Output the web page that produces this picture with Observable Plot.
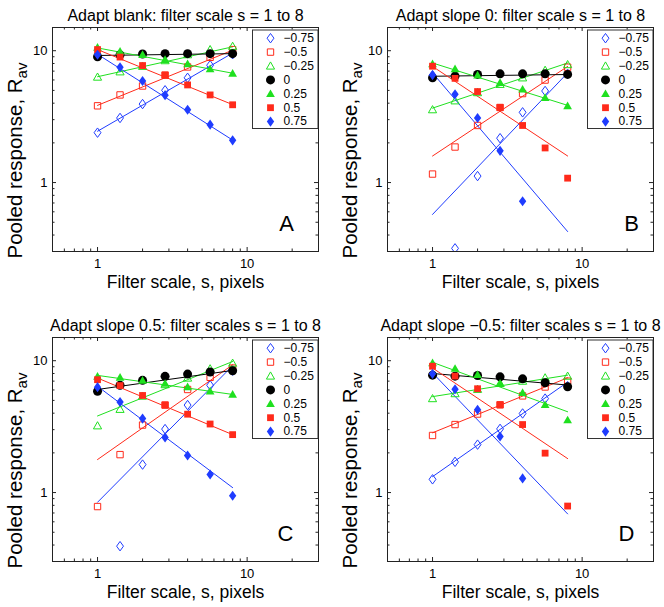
<!DOCTYPE html>
<html><head><meta charset="utf-8">
<script src="https://cdn.jsdelivr.net/npm/d3@7"></script>
<script src="https://cdn.jsdelivr.net/npm/@observablehq/plot@0.6"></script>
<style>
html,body{margin:0;padding:0;background:#fff;}
#chart{position:relative;width:664px;height:607px;overflow:hidden;background:#fff;}
.panel{position:absolute;}
</style></head><body><div id="chart"></div>
<script>
// ---------- data ----------
const filterScales = [1, 1.414, 2, 2.828, 4, 5.657, 8];
const fitScales = [1, 8];
const slopeLabels = ["\u22120.75", "\u22120.5", "\u22120.25", "0", "0.25", "0.5", "0.75"];
const panelTitles = [
  "Adapt blank: filter scale s = 1 to 8",
  "Adapt slope 0: filter scale s = 1 to 8",
  "Adapt slope 0.5: filter scales s = 1 to 8",
  "Adapt slope \u22120.5: filter scales s = 1 to 8"
];
const panelLetters = ["A", "B", "C", "D"];
const xMajorTicks = [1, 10];
const xMinorTicks = [0.6, 0.7, 0.8, 0.9, 2, 3, 4, 5, 6, 7, 8, 9, 20];
const yMajorTicks = [1, 10];
const yMinorTicks = [0.4, 0.5, 0.6, 0.7, 0.8, 0.9, 2, 3, 4, 5, 6, 7, 8, 9];

// pooled response per slope series (rows) at each filter scale (cols)
const respA = [
  [2.39, 3.09, 3.94, 5.01, 6.23, 7.76, 9.4],
  [3.82, 4.62, 5.40, 6.53, 7.53, 8.91, 10.2],
  [6.31, 6.92, 7.62, 8.41, 9.33, 10.2, 10.8],
  [9.0, 9.3, 9.44, 9.5, 9.5, 9.5, 9.5],
  [10.6, 9.88, 9.33, 8.56, 7.94, 7.28, 6.72],
  [10.2, 8.95, 7.72, 6.53, 5.50, 4.62, 3.89],
  [9.33, 7.50, 5.89, 4.60, 3.57, 2.75, 2.09]
];
const fitA = [[2.45, 9.6], [3.85, 10.1], [6.35, 10.7], [9.2, 9.5], [10.5, 6.75], [10.2, 3.9], [9.4, 2.1]];

const respB = [
  [6.5, 0.317, 1.12, 2.17, 3.41, 4.95, 6.68],
  [1.16, 1.86, 2.71, 3.71, 4.73, 5.99, 7.50],
  [3.57, 4.17, 4.81, 5.56, 6.23, 7.11, 7.85],
  [6.23, 6.42, 6.61, 6.68, 6.68, 6.68, 6.61],
  [7.94, 7.28, 6.53, 5.72, 5.10, 4.41, 3.82],
  [7.63, 6.17, 4.90, 3.71, 2.71, 1.83, 1.08],
  [6.53, 4.68, 3.09, 1.74, 0.721, null, null]
];
const fitB = [[0.573, 6.79], [1.59, 7.6], [3.67, 8.07], [6.4, 6.6], [8.07, 3.85], [7.6, 1.59], [6.79, 0.425]];

const respC = [
  [null, 0.392, 1.63, 3.03, 4.61, 6.51, 8.4],
  [0.783, 1.94, 3.25, 4.61, 6.05, 7.48, 8.8],
  [3.21, 4.28, 5.39, 6.59, 7.39, 8.69, 9.58],
  [5.87, 6.51, 7.10, 7.61, 7.92, 8.21, 8.40],
  [7.61, 7.48, 7.10, 6.71, 6.33, 5.87, 5.55],
  [7.18, 6.48, 5.45, 4.61, 3.93, 3.31, 2.75],
  [6.30, 4.86, 3.64, 2.62, 1.91, 1.37, 0.946]
];
const fitC = [[0.844, 9.16], [1.78, 9.31], [3.81, 9.86], [6.05, 8.44], [7.74, 5.55], [7.39, 2.75], [6.40, 1.09]];

const respD = [
  [1.26, 1.71, 2.31, 3.04, 3.98, 5.16, 6.4],
  [2.71, 3.28, 3.94, 4.63, 5.41, 6.32, 7.0],
  [5.16, 5.63, 6.07, 6.73, 7.00, 7.42, 7.64],
  [7.77, 7.64, 7.73, 7.55, 7.29, 6.80, 6.35],
  [9.62, 8.72, 7.85, 6.73, 5.72, 4.63, 3.55],
  [9.08, 7.64, 6.13, 4.63, 3.28, 1.99, 0.79],
  [7.95, 6.07, 4.25, 2.66, 1.28, null, null]
];
const fitD = [[1.32, 6.88], [2.84, 7.42], [5.34, 7.77], [8.0, 6.54], [9.72, 4.10], [8.81, 1.81], [8.09, 0.689]];

// ---------- styles ----------
const seriesColors = ["#1f3cff", "#ff2a1a", "#1fe01f", "#000000", "#1fe01f", "#ff2a1a", "#1f3cff"];
const seriesShapes = ["diamond", "square", "triangle", "circle", "triangle", "square", "diamond"];
const seriesFilled = [false, false, false, true, true, true, true];

const symbolDefs = {
  diamond: {draw(c, size) { const r = Math.sqrt(size / Math.PI); const w = 0.8 * r, h = 1.1 * r;
    c.moveTo(0, -h); c.lineTo(w, 0); c.lineTo(0, h); c.lineTo(-w, 0); c.closePath(); }},
  square: {draw(c, size) { const r = Math.sqrt(size / Math.PI); const a = 0.74 * r;
    c.moveTo(-a, -a); c.lineTo(a, -a); c.lineTo(a, a); c.lineTo(-a, a); c.closePath(); }},
  triangle: {draw(c, size) { const r = Math.sqrt(size / Math.PI); const w = 0.95 * r;
    c.moveTo(0, -0.95 * r); c.lineTo(w, 0.72 * r); c.lineTo(-w, 0.72 * r); c.closePath(); }},
  circle: {draw(c, size) { const r = Math.sqrt(size / Math.PI);
    c.moveTo(r, 0); c.arc(0, 0, r, 0, 2 * Math.PI); }}
};

const layouts = [
  {left: 0,   top: 0,   width: 332, height: 304, ml: 52, mr: 14, mt: 27, mb: 53, letterDx: -32, xlabDy: 36},
  {left: 332, top: 0,   width: 332, height: 304, ml: 55, mr: 11, mt: 27, mb: 53, letterDx: -22, xlabDy: 36},
  {left: 0,   top: 304, width: 332, height: 303, ml: 52, mr: 14, mt: 33, mb: 46, letterDx: -33, xlabDy: 36},
  {left: 332, top: 304, width: 332, height: 303, ml: 55, mr: 11, mt: 33, mb: 46, letterDx: -27, xlabDy: 36}
];
const panelResp = [respA, respB, respC, respD];
const panelFit = [fitA, fitB, fitC, fitD];

const AXIS = "#222";
const FONT = "'Liberation Sans', Arial, Helvetica, sans-serif";

function markerR(i) { return seriesShapes[i] === "circle" ? 4.5 : (seriesFilled[i] ? 4.6 : 4.3); }

function makePanel(k) {
  const L = layouts[k];
  const W = L.width - L.ml - L.mr, H = L.height - L.mt - L.mb;
  const resp = panelResp[k], fit = panelFit[k];
  const marks = [];
  // fitted lines
  slopeLabels.forEach((lab, i) => {
    const line = fitScales.map((s, j) => ({s, v: fit[i][j]}));
    marks.push(Plot.line(line, {x: "s", y: "v", stroke: seriesColors[i], strokeWidth: 1, clip: true}));
  });
  // data points
  slopeLabels.forEach((lab, i) => {
    const pts = filterScales.map((s, j) => ({s, v: resp[i][j]})).filter(d => d.v != null);
    marks.push(Plot.dot(pts, {
      x: "s", y: "v", symbol: symbolDefs[seriesShapes[i]], r: markerR(i),
      fill: seriesFilled[i] ? seriesColors[i] : "none",
      stroke: seriesFilled[i] ? "none" : seriesColors[i],
      strokeWidth: 1, clip: true
    }));
  });
  // inward ticks on all four sides
  [[xMajorTicks, 4], [xMinorTicks, 2.5]].forEach(([t, len]) => {
    marks.push(Plot.tickX(t, {x: d => d, insetTop: H - len, stroke: AXIS}));
    marks.push(Plot.tickX(t, {x: d => d, insetBottom: H - len, stroke: AXIS}));
  });
  [[yMajorTicks, 4], [yMinorTicks, 2.5]].forEach(([t, len]) => {
    marks.push(Plot.tickY(t, {y: d => d, insetRight: W - len, stroke: AXIS}));
    marks.push(Plot.tickY(t, {y: d => d, insetLeft: W - len, stroke: AXIS}));
  });
  // tick labels
  marks.push(Plot.axisX({anchor: "bottom", ticks: xMajorTicks, tickSize: 0, tickPadding: 7, tickFormat: d => String(d), label: null, fontSize: 13}));
  marks.push(Plot.axisY({anchor: "left", ticks: yMajorTicks, tickSize: 0, tickPadding: 5, tickFormat: d => String(d), label: null, fontSize: 13}));
  // titles / labels
  marks.push(Plot.text([panelTitles[k]], {frameAnchor: "top", dy: -7, lineAnchor: "bottom", textAnchor: "middle", fontSize: 16}));
  marks.push(Plot.text(["Filter scale, s, pixels"], {frameAnchor: "bottom", dy: L.xlabDy, lineAnchor: "bottom", textAnchor: "middle", fontSize: 17.5}));
  marks.push(Plot.text(["Pooled response, R"], {frameAnchor: "left", dx: -37, dy: 21, rotate: -90, textAnchor: "middle", lineAnchor: "middle", fontSize: 20.5}));
  marks.push(Plot.text([panelLetters[k]], {frameAnchor: "bottom-right", dx: L.letterDx, dy: -21, textAnchor: "middle", lineAnchor: "bottom", fontSize: 22}));
  // legend
  marks.push(Plot.frame({insetLeft: W - 66, insetRight: 0.5, insetTop: 2.5, insetBottom: H - 101, fill: "white", stroke: "#333"}));
  slopeLabels.forEach((lab, i) => {
    const dy = 10.7 + 13.9 * i;
    marks.push(Plot.dot([lab], {frameAnchor: "top-right", dx: -48, dy,
      symbol: symbolDefs[seriesShapes[i]], r: markerR(i),
      fill: seriesFilled[i] ? seriesColors[i] : "none",
      stroke: seriesFilled[i] ? "none" : seriesColors[i], strokeWidth: 1}));
    marks.push(Plot.text([lab], {frameAnchor: "top-right", dx: -35, dy, textAnchor: "start", lineAnchor: "middle", fontSize: 12}));
  });
  marks.push(Plot.frame({stroke: AXIS}));

  const svg = Plot.plot({
    width: L.width, height: L.height,
    marginLeft: L.ml, marginRight: L.mr, marginTop: L.mt, marginBottom: L.mb,
    x: {type: "log", domain: [0.5, 30]},
    y: {type: "log", domain: [0.3, 15]},
    style: {fontFamily: FONT, fontSize: "13px", color: "#000", background: "transparent", overflow: "visible"},
    marks
  });
  svg.querySelectorAll("text").forEach(t => {
    if (t.textContent === "Pooled response, R") {
      const ts = document.createElementNS("http://www.w3.org/2000/svg", "tspan");
      ts.setAttribute("dy", "0.32em");
      ts.setAttribute("font-size", "15");
      ts.textContent = "av";
      t.appendChild(ts);
    }
  });
  const div = document.createElement("div");
  div.className = "panel";
  div.style.left = L.left + "px";
  div.style.top = L.top + "px";
  div.appendChild(svg);
  document.getElementById("chart").appendChild(div);
}

[0, 1, 2, 3].forEach(makePanel);
</script></body></html>
